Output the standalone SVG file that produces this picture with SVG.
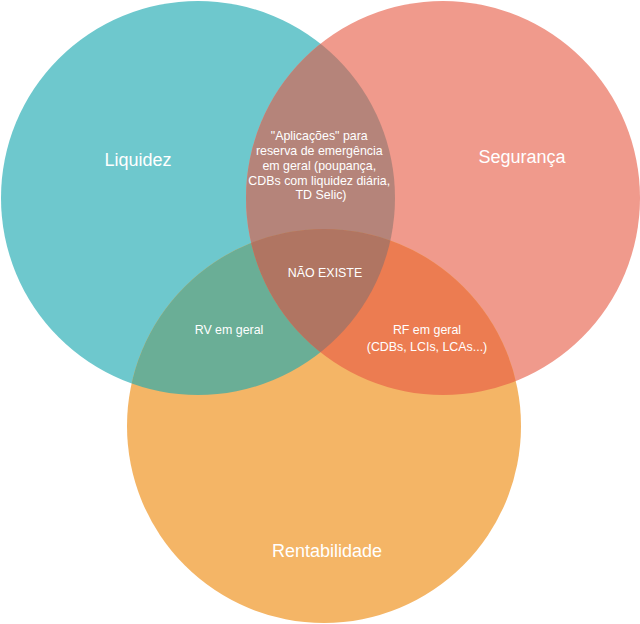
<svg xmlns="http://www.w3.org/2000/svg" width="640" height="624" viewBox="0 0 640 624">
<style>
text{font-family:"Liberation Sans",Arial,sans-serif;fill:#ffffff;text-anchor:middle}
.big{font-size:18px}
.small{font-size:12.4px}
</style>
<defs>
<clipPath id="cL"><circle cx="198" cy="198" r="197"/></clipPath>
<clipPath id="cS"><circle cx="443" cy="198" r="197"/></clipPath>
</defs>
<g id="liquidez">
<circle cx="198" cy="198" r="197" fill="#6ec8cd"/>
</g>
<g id="seguranca">
<circle cx="443" cy="198" r="197" fill="#f09a8c"/>
</g>
<g id="rentabilidade">
<circle cx="324" cy="426" r="197" fill="#f4b566"/>
</g>
<g id="liq-seg">
<circle cx="443" cy="198" r="197" fill="#b5847a" clip-path="url(#cL)"/>
</g>
<g id="liq-rent">
<circle cx="324" cy="426" r="197" fill="#6aae96" clip-path="url(#cL)"/>
</g>
<g id="seg-rent">
<circle cx="324" cy="426" r="197" fill="#ec7c51" clip-path="url(#cS)"/>
</g>
<g id="all-three">
<g clip-path="url(#cL)">
<circle cx="324" cy="426" r="197" fill="#b07562" clip-path="url(#cS)"/>
</g>
</g>
<g id="connectors"></g>
<g id="labels">
<text class="big" x="138" y="166">Liquidez</text>
<text class="big" x="522" y="163">Segurança</text>
<text class="big" x="327" y="557">Rentabilidade</text>
<text class="small" x="321">
<tspan x="321" y="140">"Aplicações" para</tspan>
<tspan x="321" y="155">reserva de emergência</tspan>
<tspan x="321" y="170">em geral (poupança,</tspan>
<tspan x="321" y="185">CDBs com liquidez diária,</tspan>
<tspan x="321" y="199">TD Selic)</tspan>
</text>
<text class="small" x="325" y="277">NÃO EXISTE</text>
<text class="small" x="229" y="334">RV em geral</text>
<text class="small" x="427" y="334">RF em geral</text>
<text class="small" x="427" y="351">(CDBs, LCIs, LCAs...)</text>
</g>
</svg>
